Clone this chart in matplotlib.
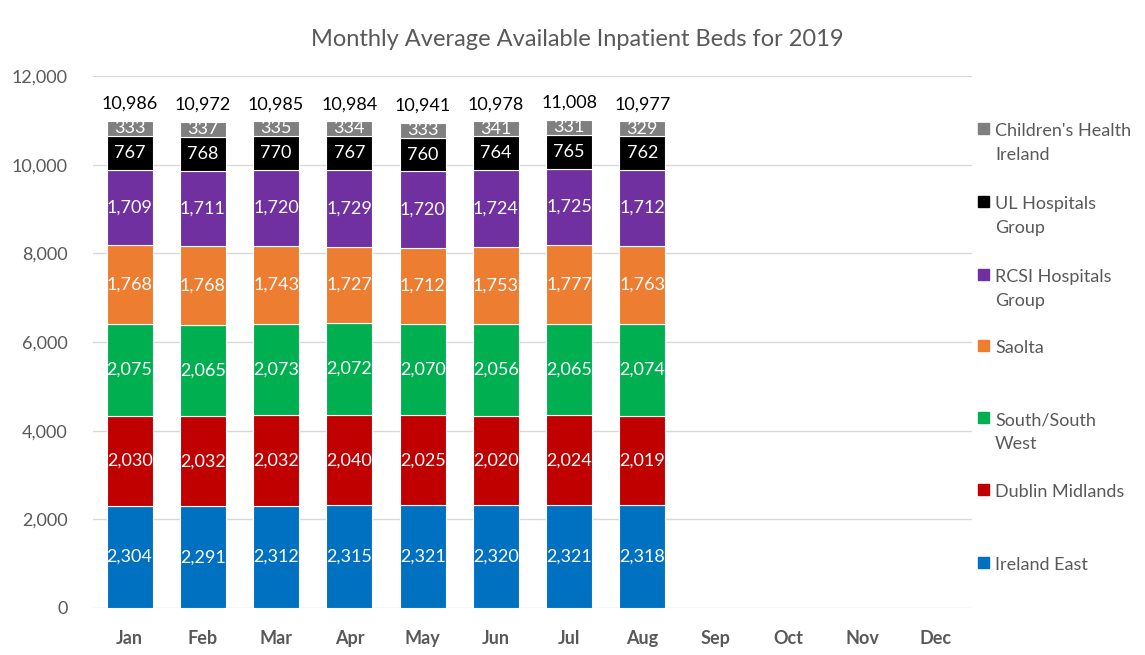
import matplotlib
matplotlib.use("Agg")
import matplotlib.pyplot as plt
from matplotlib.patches import Rectangle
import numpy as np

plt.rcParams['font.family'] = ['Lato', 'DejaVu Sans']

months = ["Jan", "Feb", "Mar", "Apr", "May", "Jun", "Jul", "Aug", "Sep", "Oct", "Nov", "Dec"]
series_names = ["Ireland East", "Dublin Midlands", "South/South\nWest", "Saolta",
                "RCSI Hospitals\nGroup", "UL Hospitals\nGroup", "Children's Health\nIreland"]
ireland_east = [2304, 2291, 2312, 2315, 2321, 2320, 2321, 2318]
dublin_midlands = [2030, 2032, 2032, 2040, 2025, 2020, 2024, 2019]
south_sw = [2075, 2065, 2073, 2072, 2070, 2056, 2065, 2074]
saolta = [1768, 1768, 1743, 1727, 1712, 1753, 1777, 1763]
rcsi = [1709, 1711, 1720, 1729, 1720, 1724, 1725, 1712]
ul = [767, 768, 770, 767, 760, 764, 765, 762]
chi = [333, 337, 335, 334, 333, 341, 331, 329]
totals = [10986, 10972, 10985, 10984, 10941, 10978, 11008, 10977]

colors = ["#0070C0", "#C00000", "#00B050", "#ED7D31", "#7030A0", "#000000", "#7F7F7F"]
data = [ireland_east, dublin_midlands, south_sw, saolta, rcsi, ul, chi]

fig = plt.figure(figsize=(11.45, 6.55), dpi=100)
ax = fig.add_axes([93/1145, 1-608/655, (972-93)/1145, (608-76)/655])

n = len(ireland_east)
x = np.arange(n)
bottom = np.zeros(n)
for vals, col in zip(data, colors):
    v = np.array(vals, dtype=float)
    ax.bar(x, v, bottom=bottom, width=0.63, color=col, edgecolor='white', linewidth=0.8, zorder=3)
    for xi, b, val in zip(x, bottom, v):
        ax.text(xi, b + val/2, f"{int(val):,}", ha='center', va='center', color='white',
                fontsize=13, zorder=4)
    bottom += v

for xi, t, top in zip(x, totals, bottom):
    ax.text(xi, top + 200, f"{t:,}", ha='center', va='bottom', color='black', fontsize=13)

ax.set_xlim(-0.5, 11.5)
ax.set_ylim(0, 12000)
ax.set_yticks(np.arange(0, 12001, 2000))
ax.set_yticklabels([f"{int(v):,}" for v in np.arange(0, 12001, 2000)])
ax.set_xticks(np.arange(len(months)))
ax.set_xticklabels(months, fontweight='bold')
ax.tick_params(axis='both', length=0, colors='#595959', labelsize=13)
ax.tick_params(axis='x', pad=16)
ax.tick_params(axis='y', pad=18)
ax.grid(axis='y', color='#D9D9D9', linewidth=1, zorder=0)
for s in ax.spines.values():
    s.set_visible(False)

fig.text(577/1145, 1-40/655, "Monthly Average Available Inpatient Beds for 2019",
         ha='center', va='center', fontsize=17, color='#595959')

# custom legend (first-line centre positions in pixels from top)
leg_y = [562, 489, 417, 345, 274, 201, 128]
for name, col, yy in zip(series_names, colors, leg_y):
    fig.add_artist(Rectangle((978/1145, 1-(yy+6)/655), 11/1145, 11/655, color=col,
                             transform=fig.transFigure))
    fig.text(995/1145, 1-(yy - 5)/655, name, ha='left', va='top', fontsize=13,
             color='#595959', linespacing=1.6)

fig.savefig("out.png", dpi=100)
